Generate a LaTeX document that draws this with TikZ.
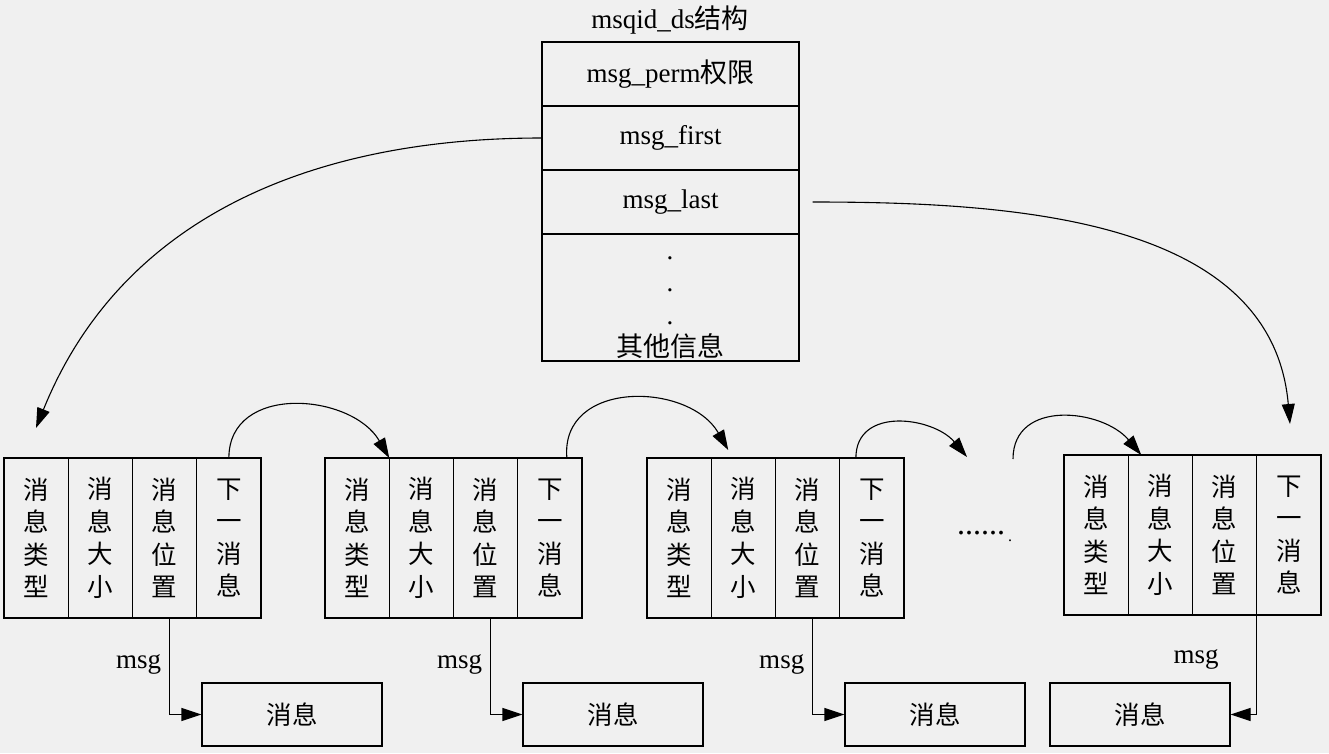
\documentclass[tikz,border=0pt]{standalone}
\usepackage{fontspec}
\setmainfont{Liberation Serif}
\newfontfamily\cjk{Noto Sans CJK SC}
\usetikzlibrary{arrows.meta}

\begin{document}
\begin{tikzpicture}[x=1pt,y=-1pt,line width=1.1pt,
	font=\fontsize{27}{33}\selectfont,
	row/.style={draw,minimum width=257pt,minimum height=64pt,inner sep=0pt},
	cell/.style={draw,anchor=north west,outer sep=0pt,minimum width=64.25pt,minimum height=160pt,inner sep=0pt,align=center,font=\fontsize{25.5}{32.5}\selectfont\cjk},
	msgbox/.style={draw,minimum width=180pt,minimum height=63pt,inner sep=0pt,font=\fontsize{25.5}{30}\selectfont\cjk},
	link/.style={-{Triangle[length=20pt,width=13pt]}}]
	\fill[black!6] (0,0) rectangle (1329,753);
	\useasboundingbox (0,0) rectangle (1329,753);
	
	% msqid_ds
	\node (title) at (670,20) {msqid\_ds{\cjk 结构}};
	\node[row] (perm) at (670.5,74) {msg\_perm{\cjk 权限}};
	\node[row] (first) at (670.5,138) {msg\_first};
	\node[row] (last) at (670.5,202) {msg\_last};
	\node[row,minimum height=127pt] (other) at (670.5,297.5) {};
	\node[anchor=base] (dota) at (670,259) {.};
	\node[anchor=base] (dotb) at (670,291) {.};
	\node[anchor=base] (dotc) at (670,324) {.};
	\node (rest) at (670,346) {\cjk 其他信息};
	
	% queue
	\foreach \g/\x in {1/4,2/325,3/647}{
		\node[cell] (a\g) at (\x,458) {消\\息\\类\\型};
		\node[cell] (b\g) at (a\g.north east) {消\\息\\大\\小};
		\node[cell] (c\g) at (b\g.north east) {消\\息\\位\\置};
		\node[cell] (d\g) at (c\g.north east) {下\\一\\消\\息};
		\node[msgbox] (m\g) at (\x+288,714.5) {消息};
		\draw[link] ([xshift=4.5pt]c\g.south) |- node[pos=0.24,left,xshift=-4pt] (msg\g) {msg} (m\g.west);
	}
	\node[cell] (a4) at (1064,455) {消\\息\\类\\型};
	\node[cell] (b4) at (a4.north east) {消\\息\\大\\小};
	\node[cell] (c4) at (b4.north east) {消\\息\\位\\置};
	\node[cell] (d4) at (c4.north east) {下\\一\\消\\息};
	\node[msgbox] (m4) at (1140,714.5) {消息};
	\draw[link] (d4.south west) |- (m4.east);
	\node (msg4) at (1196,659) {msg};
	
	\node (more) at (981,533) {\fontsize{32}{32}\selectfont......};
	\node (moredot) at (1010,541) {\fontsize{16}{16}\selectfont.};
	\coordinate (gapa) at (967,457);
	\coordinate (gapb) at (1013,459);
	
	\draw[link] (d1.north) to[out=90,in=120,looseness=1.2] (b2.north west);
	\draw[link] ([xshift=17pt]d2.north) to[out=95,in=120,looseness=1.25] ([xshift=17pt,yshift=8pt]b3.north west);
	\draw[link] ([xshift=-16pt]d3.north) to[out=90,in=130,looseness=1.2] (gapa);
	\draw[link] (gapb) to[out=90,in=130,looseness=1.2] ([xshift=13pt]b4.north west);
	
	\draw[link] (first.west) to[out=180,in=68] (36,428);
	\draw[link] ([xshift=13pt]last.east) to[out=0,in=95] (1290,424);
\end{tikzpicture}
\end{document}
